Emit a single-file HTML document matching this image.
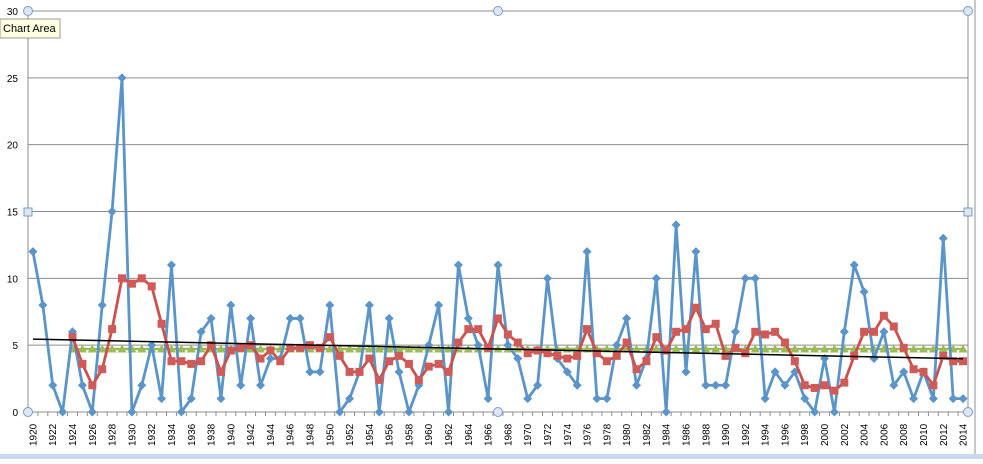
<!DOCTYPE html>
<html><head><meta charset="utf-8"><style>
body{margin:0;background:#fff;width:983px;height:459px;overflow:hidden;font-family:"Liberation Sans",sans-serif}
</style></head><body>
<svg id="s" width="983" height="459" xmlns="http://www.w3.org/2000/svg" font-family="Liberation Sans, sans-serif">
<rect x="0" y="0" width="983" height="459" fill="#fff"/>
<rect x="0" y="454" width="983" height="5" fill="#c9d9ee"/>
<line x1="975" y1="0" x2="975" y2="454" stroke="#c8c8c8" stroke-width="2"/>
</svg>
<script>
var b=[12,8,2,0,6,2,0,8,15,25,0,2,5,1,11,0,1,6,7,1,8,2,7,2,4,4,7,7,3,3,8,0,1,3,8,0,7,3,0,2,5,8,0,11,7,5,1,11,5,4,1,2,10,4,3,2,12,1,1,5,7,2,4,10,0,14,3,12,2,2,2,6,10,10,1,3,2,3,1,0,4,0,6,11,9,4,6,2,3,1,3,1,13,1,1];
var s=document.getElementById('s'),NS='http://www.w3.org/2000/svg';
function el(t,a,txt){var e=document.createElementNS(NS,t);for(var k in a)e.setAttribute(k,a[k]);if(txt!=null)e.textContent=txt;s.appendChild(e);return e;}
var L=28,R=968,Y0=412,Y30=11,n=b.length,w=(R-L)/n;
function X(i){return L+w*(i+0.5);}function Y(v){return Y0-(Y0-Y30)*v/30;}
for(var v=0;v<=30;v+=5){el('line',{x1:L,y1:Y(v),x2:R,y2:Y(v),stroke:'#8c8c8c','stroke-width':1});
el('text',{x:18,y:Y(v)+4,'font-size':10,'text-anchor':'end',fill:'#000'},v);}
el('line',{x1:L,y1:Y30,x2:L,y2:Y0,stroke:'#8c8c8c'});
el('line',{x1:R,y1:Y30,x2:R,y2:Y0,stroke:'#8c8c8c'});
for(var i=0;i<n;i++){el('line',{x1:L+w*i,y1:Y0,x2:L+w*i,y2:Y0+4,stroke:'#8c8c8c'});
if(i%2==0){var x=X(i)+3.5;el('text',{x:x,y:446,'font-size':10,transform:'rotate(-90 '+x+' 446)',fill:'#000'},1920+i);}}
var sx=0,sy=0,sxy=0,sxx=0;for(i=0;i<n;i++){sx+=i;sy+=b[i];sxy+=i*b[i];sxx+=i*i;}
var m=(n*sxy-sx*sy)/(n*sxx-sx*sx),c=(sy-m*sx)/n,mean=sy/n;
var g='';for(i=4;i<n;i++)g+=(i==4?'M':'L')+X(i)+' '+Y(mean);
el('path',{d:g,stroke:'#9bbb59','stroke-width':2.5,fill:'none'});
for(i=4;i<n;i++){var x=X(i),y=Y(mean);el('polygon',{points:(x-4.5)+','+(y+3.5)+' '+(x+4.5)+','+(y+3.5)+' '+x+','+(y-4.5),fill:'#9bbb59'});}
var p='';for(i=0;i<n;i++)p+=(i?'L':'M')+X(i)+' '+Y(b[i]);
el('path',{d:p,stroke:'#5a94c8','stroke-width':2.8,fill:'none','stroke-linejoin':'round'});
for(i=0;i<n;i++){var x=X(i),y=Y(b[i]);el('polygon',{points:(x-4.5)+','+y+' '+x+','+(y-4.5)+' '+(x+4.5)+','+y+' '+x+','+(y+4.5),fill:'#5a94c8'});}
var r='',ra=[];for(i=4;i<n;i++){var a=(b[i]+b[i-1]+b[i-2]+b[i-3]+b[i-4])/5;ra.push([X(i),Y(a)]);r+=(i==4?'M':'L')+X(i)+' '+Y(a);}
el('path',{d:r,stroke:'#c9524f','stroke-width':2.8,fill:'none'});
ra.forEach(function(q){el('rect',{x:q[0]-4,y:q[1]-4,width:8,height:8,fill:'#d05a57'});});
el('line',{x1:X(0),y1:Y(c),x2:X(n-1),y2:Y(c+m*(n-1)),stroke:'#000','stroke-width':1.5});
[[28,11],[498,11],[968,11],[28,412],[498,412],[968,412]].forEach(function(h){el('circle',{cx:h[0],cy:h[1],r:4.5,fill:'#dde6f2',stroke:'#7d9cc4'});});
[[28,212],[968,212]].forEach(function(h){el('rect',{x:h[0]-4,y:h[1]-4,width:8,height:8,fill:'#dde6f2',stroke:'#7d9cc4'});});
el('rect',{x:0,y:19,width:60,height:19,fill:'#ffffe1',stroke:'#999'});
el('text',{x:3,y:32,'font-size':11,fill:'#000'},'Chart Area');
</script>
</body></html>
